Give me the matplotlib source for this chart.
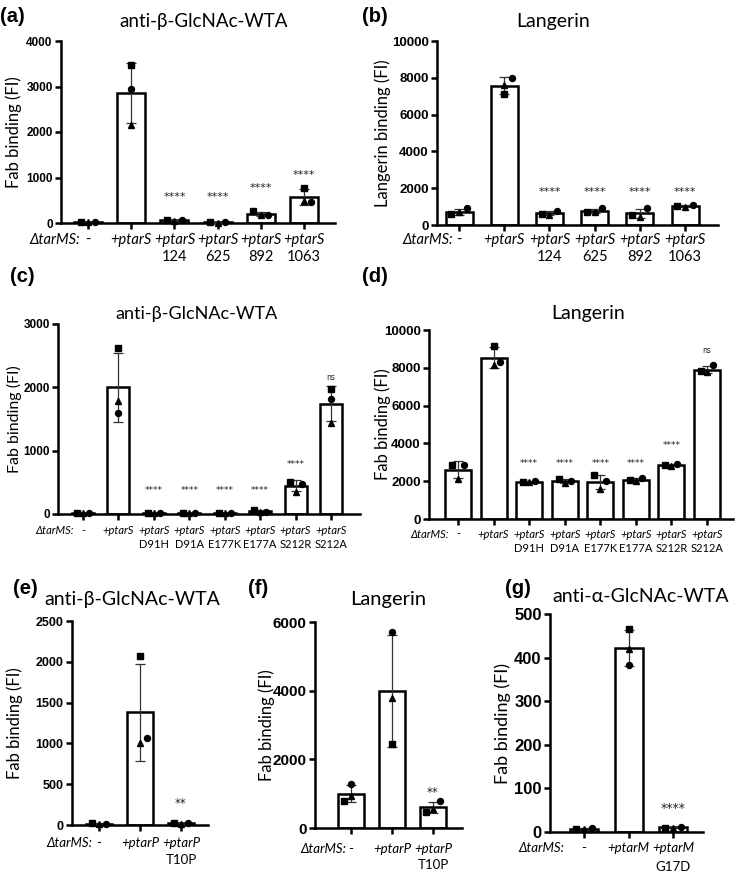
import matplotlib.pyplot as plt
import numpy as np

W, H = 739, 875
TXT = ['Lato', 'DejaVu Sans']
NUM = 'Liberation Sans'

# ---- data ----
# (a) anti-beta-GlcNAc-WTA
a_top = ['-', '+ptarS', '+ptarS', '+ptarS', '+ptarS', '+ptarS']
a_sub = ['', '', '124', '625', '892', '1063']
a_square = [20, 3470, 70, 15, 255, 770]
a_circle = [25, 2940, 55, 20, 175, 462]
a_triangle = [15, 2150, 50, 10, 165, 484]
a_stars = ['', '', '****', '****', '****', '****']
a_star_y = [0, 0, 570, 570, 780, 1060]

# (b) Langerin
b_top = ['-', '+ptarS', '+ptarS', '+ptarS', '+ptarS', '+ptarS']
b_sub = ['', '', '124', '625', '892', '1063']
b_square = [580, 7120, 580, 725, 540, 1050]
b_circle = [900, 8010, 760, 900, 900, 1105]
b_triangle = [690, 7590, 560, 690, 460, 960]
b_stars = ['', '', '****', '****', '****', '****']
b_star_y = [0, 0, 1810, 1810, 1810, 1810]

# (c) anti-beta-GlcNAc-WTA, point mutants
c_top = ['-', '+ptarS', '+ptarS', '+ptarS', '+ptarS', '+ptarS', '+ptarS', '+ptarS']
c_sub = ['', '', 'D91H', 'D91A', 'E177K', 'E177A', 'S212R', 'S212A']
c_square = [20, 2620, 15, 15, 20, 60, 510, 1970]
c_circle = [15, 1590, 10, 12, 15, 35, 475, 1815]
c_triangle = [10, 1790, 12, 10, 18, 30, 350, 1440]
c_stars = ['', '', '****', '****', '****', '****', '****', 'ns']
c_star_y = [0, 0, 378, 378, 378, 378, 777, 2160]

# (d) Langerin, point mutants
d_top = c_top
d_sub = c_sub
d_square = [2850, 9150, 1980, 2100, 2330, 2080, 2850, 7820]
d_circle = [2880, 8310, 2020, 2030, 2000, 2150, 2900, 8140]
d_triangle = [2100, 8130, 1950, 1880, 1580, 2000, 2780, 7760]
d_stars = ['', '', '****', '****', '****', '****', '****', 'ns']
d_star_y = [0, 0, 2940, 2940, 2940, 2940, 3870, 8890]

# (e) anti-beta-GlcNAc-WTA, tarP
e_top = ['-', '+ptarP', '+ptarP']
e_sub = ['', '', 'T10P']
e_square = [20, 2070, 20]
e_circle = [15, 1065, 25]
e_triangle = [10, 1010, 15]
e_stars = ['', '', '**']
e_star_y = [0, 0, 262]

# (f) Langerin, tarP
f_top = ['-', '+ptarP', '+ptarP']
f_sub = ['', '', 'T10P']
f_square = [800, 2460, 480]
f_circle = [1280, 5710, 780]
f_triangle = [920, 3790, 560]
f_stars = ['', '', '**']
f_star_y = [0, 0, 1040]

# (g) anti-alpha-GlcNAc-WTA, tarM
g_top = ['-', '+ptarM', '+ptarM']
g_sub = ['', '', 'G17D']
g_square = [6, 465, 10]
g_circle = [10, 383, 12]
g_triangle = [7, 420, 9]
g_stars = ['', '', '****']
g_star_y = [0, 0, 53]

fig = plt.figure(figsize=(W / 100, H / 100), dpi=100)


def fx(x):
    return x / W


def fy(y):
    return 1 - y / H


def panel(rect, c0, c1, bar_px, top, sub, sq, ci, tr, stars, star_y, yticks,
          ylabel, title, title_xy, letter, letter_xy, tick_fs, lab_fs, ttl_fs,
          xl_fs, xl_off, delta_gap, star_fs, ylab_dx):
    left, ytop, right, bottom = rect
    ax = fig.add_axes([fx(left), fy(bottom), (right - left) / W, (bottom - ytop) / H])
    n = len(sq)
    sp = (c1 - c0) / (n - 1)
    x = np.arange(n)
    pts = np.array([sq, ci, tr], dtype=float)
    mean = pts.mean(axis=0)
    sd = pts.std(axis=0, ddof=1)
    ymax = yticks[-1]

    ax.bar(x, mean, width=bar_px / sp, color='white', edgecolor='black',
           linewidth=1.8, zorder=2)
    ax.errorbar(x, mean, yerr=sd, fmt='none', ecolor='#333333', elinewidth=0.9,
                capsize=3.5, capthick=0.9, zorder=3)
    offs = [-0.17, 0.17, 0.0]
    for k, m in enumerate(['s', 'o', '^']):
        xs = []
        for i in range(n):
            close = any(abs(pts[k, i] - pts[j, i]) < 0.045 * ymax for j in range(3) if j != k)
            xs.append(i + (offs[k] if close else 0))
        ax.plot(xs, pts[k], m, color='black', ms=4.3, zorder=4, clip_on=False)

    for i, s in enumerate(stars):
        if s:
            ax.text(i, star_y[i], s, ha='center', va='center',
                    fontsize=star_fs if s != 'ns' else star_fs - 1,
                    family='DejaVu Sans', color='#222222')

    ax.set_xlim(-(c0 - left) / sp, n - 1 + (right - c1) / sp)
    ax.set_ylim(0, ymax)
    ax.set_yticks(yticks)
    ax.set_yticklabels([str(t) for t in yticks], fontsize=tick_fs,
                       fontweight='bold', family=NUM)
    ax.set_xticks(x)
    ax.set_xticklabels([])
    for s in ['top', 'right']:
        ax.spines[s].set_visible(False)
    for s in ['left', 'bottom']:
        ax.spines[s].set_linewidth(1.8)
    ax.tick_params(axis='both', length=4, width=1.8, direction='out')
    ax.tick_params(axis='y', pad=2)

    # x labels (two rows)
    for i in range(n):
        ax.annotate(top[i], xy=(i, 0), xycoords=('data', 'axes fraction'),
                    xytext=(0, -xl_off[0] * 0.72), textcoords='offset points',
                    ha='center', va='center', fontsize=xl_fs, family=TXT,
                    style='italic' if top[i] != '-' else 'normal')
        if sub[i]:
            ax.annotate(sub[i], xy=(i, 0), xycoords=('data', 'axes fraction'),
                        xytext=(0, -xl_off[1] * 0.72), textcoords='offset points',
                        ha='center', va='center', fontsize=xl_fs, family=TXT)
    ax.annotate('\u0394tarMS:', xy=(0, 0), xycoords=('data', 'axes fraction'),
                xytext=(-delta_gap * 0.72, -xl_off[0] * 0.72), textcoords='offset points',
                ha='right', va='center', fontsize=xl_fs, family=TXT, style='italic')

    fig.text(fx(left - ylab_dx), fy((ytop + bottom) / 2), ylabel, rotation=90,
             ha='center', va='center', fontsize=lab_fs, family=TXT)
    fig.text(fx(title_xy[0]), fy(title_xy[1]), title, ha='center', va='center',
             fontsize=ttl_fs, family=TXT)
    fig.text(fx(letter_xy[0]), fy(letter_xy[1]), letter, ha='left', va='center',
             fontsize=14.5, fontweight='bold', family=NUM)
    return ax


panel((61, 41, 335, 223), 88, 304, 28, a_top, a_sub, a_square, a_circle, a_triangle,
      a_stars, a_star_y, [0, 1000, 2000, 3000, 4000], 'Fab binding (FI)',
      'anti-\u03b2-GlcNAc-WTA', (204, 22), '(a)', (0, 16), 8.5, 12, 13.5,
      10.5, (17, 34), 8, 8, 47)

panel((437, 41, 718, 225), 459, 685, 27, b_top, b_sub, b_square, b_circle, b_triangle,
      b_stars, b_star_y, [0, 2000, 4000, 6000, 8000, 10000], 'Langerin binding (FI)',
      'Langerin', (553, 22), '(b)', (362, 16), 9.5, 12, 14,
      10.5, (15, 32), 6, 8, 54)

panel((58, 324, 360, 514), 83, 331, 22, c_top, c_sub, c_square, c_circle, c_triangle,
      c_stars, c_star_y, [0, 1000, 2000, 3000], 'Fab binding (FI)',
      'anti-\u03b2-GlcNAc-WTA', (197, 314), '(c)', (10, 277), 8.5, 11.5, 13,
      8, (17, 30), 9, 6.5, 44)

panel((429, 330, 733, 519), 458, 707, 26, d_top, d_sub, d_square, d_circle, d_triangle,
      d_stars, d_star_y, [0, 2000, 4000, 6000, 8000, 10000], 'Fab binding (FI)',
      'Langerin', (588, 313), '(d)', (362, 277), 9.5, 12, 14,
      8, (15, 29), 9, 6.5, 46)

panel((72, 621, 208, 825), 99, 181, 26, e_top, e_sub, e_square, e_circle, e_triangle,
      e_stars, e_star_y, [0, 500, 1000, 1500, 2000, 2500], 'Fab binding (FI)',
      'anti-\u03b2-GlcNAc-WTA', (132, 600), '(e)', (13, 589), 9, 12, 14,
      9.5, (18, 35), 7, 8.5, 57)

panel((315, 622, 462, 828), 351, 433, 26, f_top, f_sub, f_square, f_circle, f_triangle,
      f_stars, f_star_y, [0, 2000, 4000, 6000], 'Fab binding (FI)',
      'Langerin', (388, 600), '(f)', (248, 588), 11, 12, 14.5,
      9.5, (21, 37), 5, 8.5, 48)

panel((550, 614, 703, 832), 584, 673, 28, g_top, g_sub, g_square, g_circle, g_triangle,
      g_stars, g_star_y, [0, 100, 200, 300, 400, 500], 'Fab binding (FI)',
      'anti-\u03b1-GlcNAc-WTA', (641, 596), '(g)', (505, 589), 12, 13, 14,
      9.5, (16, 35), 20, 9, 47)

fig.savefig('out.png', dpi=100)
